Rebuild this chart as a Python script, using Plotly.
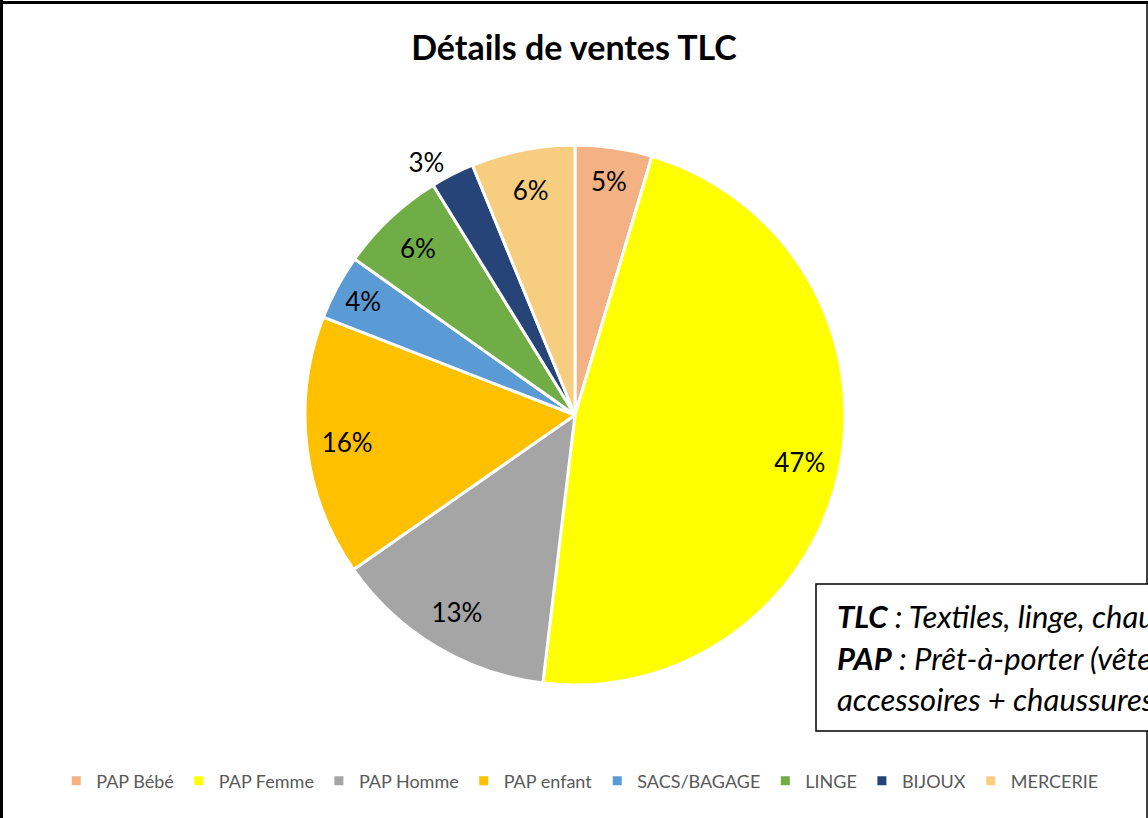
import plotly.graph_objects as go

categories = ["PAP Bébé", "PAP Femme", "PAP Homme", "PAP enfant",
              "SACS/BAGAGE", "LINGE", "BIJOUX", "MERCERIE"]
values = [4.6, 47.3, 13.4, 15.6, 3.9, 6.4, 2.6, 6.2]
colors = ["#F4B183", "#FFFF00", "#A5A5A5", "#FFC000",
          "#5B9BD5", "#70AD47", "#264478", "#F7CD80"]
text_positions = ["inside", "inside", "inside", "inside",
                  "inside", "inside", "outside", "inside"]

W, H = 1148, 818
cx, cy, r = 575, 415, 270
dom = dict(x=[(cx - r) / W, (cx + r) / W],
           y=[(H - cy - r) / H, (H - cy + r) / H])

fig = go.Figure()
# coloured slices + legend
fig.add_trace(go.Pie(
    labels=categories, values=values, sort=False,
    direction="clockwise", rotation=0,
    marker=dict(colors=colors, line=dict(color="white", width=3)),
    textinfo="none", domain=dom, hoverinfo="label+percent",
))
# transparent ring carrying the percentage labels (placed near the rim, like the original)
fig.add_trace(go.Pie(
    labels=categories, values=values, sort=False,
    direction="clockwise", rotation=0, hole=0.70,
    marker=dict(colors=["rgba(0,0,0,0)"] * len(values), line=dict(width=0)),
    texttemplate="%{percent:.0%}", textposition=text_positions,
    insidetextorientation="horizontal",
    textfont=dict(family="Lato", size=26, color="black"),
    domain=dom, showlegend=False, hoverinfo="skip",
))

def px(x):
    return x / W

def py(y):
    return 1 - y / H

shapes = [
    dict(type="line", xref="paper", yref="paper", x0=px(1.5), x1=px(1.5), y0=py(0), y1=py(818),
         line=dict(color="black", width=3)),
    dict(type="line", xref="paper", yref="paper", x0=px(0), x1=px(1148), y0=py(2.5), y1=py(2.5),
         line=dict(color="black", width=3)),
    dict(type="line", xref="paper", yref="paper", x0=px(1147), x1=px(1147), y0=py(2), y1=py(818),
         line=dict(color="black", width=1.5)),
    dict(type="rect", xref="paper", yref="paper", x0=px(816), x1=px(1200), y0=py(731), y1=py(584),
         line=dict(color="black", width=1.5), fillcolor="white"),
]

note_lines = [
    "<b><i>TLC</i></b><i> : Textiles, linge, chaussures</i>",
    "<b><i>PAP</i></b><i> : Prêt-à-porter (vêtements,</i>",
    "<i>accessoires + chaussures)</i>",
]
note_y = [616, 658, 699]
annotations = []
for line, yy in zip(note_lines, note_y):
    annotations.append(dict(
        text=line, xref="paper", yref="paper", x=px(835), y=py(yy),
        xanchor="left", yanchor="middle", showarrow=False, align="left",
        font=dict(family="Lato", size=31, color="black"),
    ))

fig.update_layout(
    width=W, height=H,
    margin=dict(l=0, r=0, t=0, b=0),
    paper_bgcolor="white",
    title=dict(text="<b>Détails de ventes TLC</b>", x=0.5, xanchor="center",
               y=py(48), yanchor="middle",
               font=dict(family="Lato", size=34, color="black")),
    legend=dict(orientation="h", x=0.505, xanchor="center", y=py(781), yanchor="middle",
                font=dict(family="Lato", size=18, color="#595959"),
                itemclick=False, traceorder="normal"),
    shapes=shapes,
    annotations=annotations,
)

fig.write_html("out.html", config={"displayModeBar": False},
               post_script="document.body.style.margin='0';document.body.style.overflow='hidden';")
